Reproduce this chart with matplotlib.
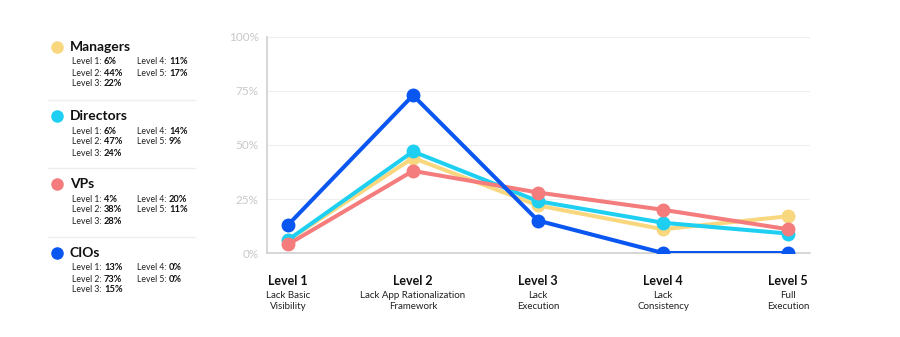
import matplotlib
matplotlib.use("Agg")
import matplotlib.pyplot as plt
from matplotlib.lines import Line2D

plt.rcParams['font.family'] = ['Lato', 'DejaVu Sans']

levels = ["Level 1", "Level 2", "Level 3", "Level 4", "Level 5"]
level_desc = ["Lack Basic\nVisibility", "Lack App Rationalization\nFramework",
              "Lack\nExecution", "Lack\nConsistency", "Full\nExecution"]
groups = ["Managers", "Directors", "VPs", "CIOs"]
managers = [6, 44, 22, 11, 17]
directors = [6, 47, 24, 14, 9]
vps = [4, 38, 28, 20, 11]
cios = [13, 73, 15, 0, 0]
series = [managers, directors, vps, cios]
colors = ["#F9D77E", "#1ECFF2", "#F47C7C", "#0A56F0"]
yticks = [0, 25, 50, 75, 100]

fig = plt.figure(figsize=(9, 3.37), dpi=100)
ax = fig.add_axes([267/900, 84/337, 543/900, 216/337])
x = list(range(len(levels)))
for vals, c in zip(series, colors):
    ax.plot(x, vals, color=c, lw=2.9, marker='o', ms=9, solid_capstyle='round', zorder=3)
ax.set_xlim(-0.168, 4.176)
ax.set_ylim(0, 100)
ax.set_yticks(yticks)
ax.set_yticklabels([f"{v}%" for v in yticks], color="#C8C8C8", fontsize=8.5)
ax.tick_params(axis='y', length=0, pad=6)
ax.tick_params(axis='x', length=0)
ax.set_xticks(x)
ax.set_xticklabels([])
for i, (lv, d) in enumerate(zip(levels, level_desc)):
    ax.text(i, -0.10, lv, transform=ax.get_xaxis_transform(), ha='center', va='top',
            fontsize=9, fontweight='bold', color='#111111')
    ax.text(i, -0.175, d, transform=ax.get_xaxis_transform(), ha='center', va='top',
            fontsize=7, color='#222222', linespacing=1.3)
for sp in ['top', 'right']:
    ax.spines[sp].set_visible(False)
ax.spines['left'].set_color('#D0D0D0')
ax.spines['bottom'].set_color('#D0D0D0')
ax.spines['left'].set_linewidth(1.2)
ax.spines['bottom'].set_linewidth(1.2)
ax.grid(axis='y', color='#EFEFEF', lw=0.8, zorder=0)
ax.set_axisbelow(True)

# legend panel
W, H = 900, 337
tops = [47, 116, 184, 253]
for g, vals, c, ty in zip(groups, series, colors, tops):
    fig.add_artist(Line2D([57/W], [1 - ty/H], marker='o', ms=8, color=c, transform=fig.transFigure))
    fig.text(70/W, 1 - ty/H, g, fontsize=10, fontweight='bold', va='center', color='#111111')
    rows = [(0, 0), (1, 0), (2, 0), (0, 1), (1, 1)]
    for k, ((r, col), v) in enumerate(zip(rows, vals)):
        xx = 72/W + col * 65/W
        yy = 1 - (ty + 15 + r * 11)/H
        fig.text(xx, yy, f"Level {k+1}:", fontsize=6.2, va='center', color='#222222')
        fig.text(xx + 32/W, yy, f"{v}%", fontsize=6.7, fontweight='bold', va='center', color='#111111')
for sy in [100, 168, 237]:
    fig.add_artist(Line2D([48/W, 195/W], [1 - sy/H, 1 - sy/H], color='#EEEEEE', lw=1,
                          transform=fig.transFigure))

fig.savefig("out.png", dpi=100)
